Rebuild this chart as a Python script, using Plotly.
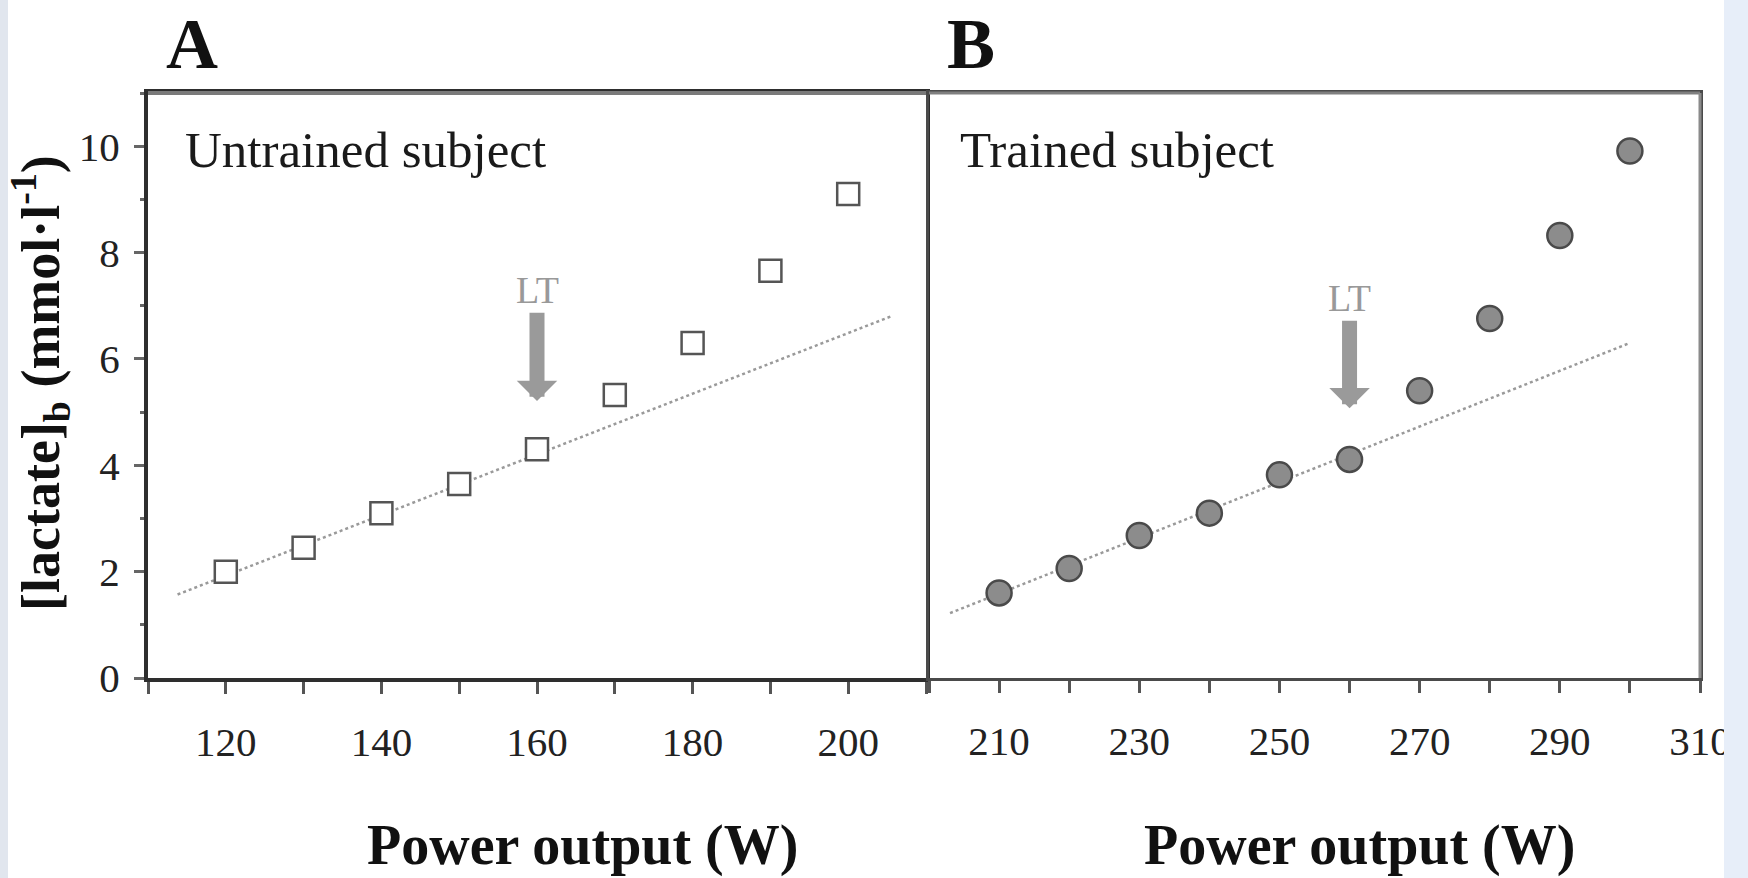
import plotly.graph_objects as go

# ---- data ----
power_a = [120, 130, 140, 150, 160, 170, 180, 190, 200]
lactate_a = [2.0, 2.45, 3.1, 3.65, 4.3, 5.32, 6.3, 7.66, 9.1]
fit_a_x = [113.8, 205.5]
fit_a_y = [1.57, 6.8]
lt_a = 160
lt_a_tip = 5.21
lt_a_text_y = 7.29

power_b = [210, 220, 230, 240, 250, 260, 270, 280, 290, 300]
lactate_b = [1.6, 2.06, 2.68, 3.1, 3.82, 4.11, 5.4, 6.76, 8.32, 9.91]
fit_b_x = [203.0, 300.0]
fit_b_y = [1.22, 6.3]
lt_b = 260
lt_b_tip = 5.07
lt_b_text_y = 7.14

xticks_a = [120, 140, 160, 180, 200]
xticks_b = [210, 230, 250, 270, 290, 310]
yticks = [0, 2, 4, 6, 8, 10]

FONT = "Liberation Serif"
W, H = 1748, 878

def px_x(p):
    return p / W

def px_y(p):
    return (H - p) / H

fig = go.Figure()

# Panel A
fig.add_trace(go.Scatter(x=fit_a_x, y=fit_a_y, mode="lines",
                         line=dict(color="#9a9a9a", width=2.5, dash="dot"),
                         xaxis="x", yaxis="y", showlegend=False))
fig.add_trace(go.Scatter(x=power_a, y=lactate_a, mode="markers",
                         marker=dict(symbol="square", size=22, color="white",
                                     line=dict(color="#555555", width=2.5)),
                         xaxis="x", yaxis="y", showlegend=False))
# Panel B
fig.add_trace(go.Scatter(x=fit_b_x, y=fit_b_y, mode="lines",
                         line=dict(color="#9a9a9a", width=2.5, dash="dot"),
                         xaxis="x2", yaxis="y2", showlegend=False))
fig.add_trace(go.Scatter(x=power_b, y=lactate_b, mode="markers",
                         marker=dict(symbol="circle", size=25, color="#8c8c8c",
                                     line=dict(color="#4a4a4a", width=2.5)),
                         xaxis="x2", yaxis="y2", showlegend=False))

tickfont = dict(family=FONT, size=41, color="#222222")
dom_y = [px_y(678), px_y(93)]

common_x = dict(showline=True, mirror=True, ticks="outside", ticklen=12, tickwidth=3,
                tickcolor="#555555", showgrid=False, zeroline=False, tickfont=tickfont,
                ticklabelstandoff=13, tickmode="array", automargin=False)

fig.update_layout(
    width=W, height=H, autosize=False,
    margin=dict(l=0, r=0, t=0, b=0, autoexpand=False),
    paper_bgcolor="white", plot_bgcolor="white",
    xaxis=dict(domain=[px_x(148), px_x(926)], range=[110, 210], tickvals=xticks_a,
               linecolor="#2e2e2e", linewidth=4,
               minor=dict(dtick=10, tick0=110, ticks="outside", ticklen=12, tickwidth=3,
                          tickcolor="#555555"),
               anchor="y", **common_x),
    xaxis2=dict(domain=[px_x(929), px_x(1700)], range=[200, 310], tickvals=xticks_b,
                linecolor="#4a4a4a", linewidth=3,
                minor=dict(dtick=10, tick0=200, ticks="outside", ticklen=12, tickwidth=3,
                           tickcolor="#555555"),
                anchor="y2", **common_x),
    yaxis=dict(domain=dom_y, range=[0, 11], tickmode="array", tickvals=yticks,
               showline=True, mirror=True, linecolor="#2e2e2e", linewidth=4,
               ticks="outside", ticklen=10, tickwidth=3, tickcolor="#666666",
               minor=dict(dtick=1, ticks="outside", ticklen=4, tickwidth=3, tickcolor="#666666"),
               showgrid=False, zeroline=False, tickfont=tickfont, ticklabelstandoff=6,
               anchor="x", automargin=False),
    yaxis2=dict(domain=dom_y, range=[0, 11], showline=True, mirror=True,
                linecolor="#4a4a4a", linewidth=3, ticks="", showticklabels=False,
                showgrid=False, zeroline=False, anchor="x2", automargin=False),
)

ann = []
# LT labels with arrows pointing down to the threshold point
for xr, yr, xv, tip, ty in [("x", "y", lt_a, lt_a_tip, lt_a_text_y),
                            ("x2", "y2", lt_b, lt_b_tip, lt_b_text_y)]:
    ann.append(dict(x=xv, y=tip, ax=xv, ay=ty, xref=xr, yref=yr,
                    axref=xr, ayref=yr, text="LT", showarrow=True, arrowhead=1,
                    arrowwidth=15, arrowsize=0.45, arrowcolor="#9a9a9a",
                    font=dict(family=FONT, size=38, color="#999999")))

# subject labels
ann.append(dict(x=px_x(183), y=px_y(150), xref="paper", yref="paper", xanchor="left",
                yanchor="middle", text="Untrained subject", showarrow=False,
                font=dict(family=FONT, size=51, color="#1a1a1a")))
ann.append(dict(x=px_x(958), y=px_y(150), xref="paper", yref="paper", xanchor="left",
                yanchor="middle", text="Trained subject", showarrow=False,
                font=dict(family=FONT, size=51, color="#1a1a1a")))
# panel letters
ann.append(dict(x=px_x(164), y=px_y(44), xref="paper", yref="paper", xanchor="left",
                yanchor="middle", text="<b>A</b>", showarrow=False,
                font=dict(family=FONT, size=72, color="#111111")))
ann.append(dict(x=px_x(945), y=px_y(44), xref="paper", yref="paper", xanchor="left",
                yanchor="middle", text="<b>B</b>", showarrow=False,
                font=dict(family=FONT, size=72, color="#111111")))
# axis titles (kept fully inside the page)
for cx in [582, 1359]:
    ann.append(dict(x=px_x(cx), y=0, xref="paper", yref="paper",
                    xanchor="center", yanchor="bottom", text="<b>Power output (W)</b>",
                    showarrow=False, borderpad=0,
                    font=dict(family=FONT, size=56, color="#111111")))
ann.append(dict(x=px_x(40), y=px_y(383), xref="paper", yref="paper", xanchor="center",
                yanchor="middle", textangle=-90,
                text="<b>[lactate]<sub>b</sub> (mmol·l<sup>-1</sup>)</b>",
                showarrow=False, font=dict(family=FONT, size=54, color="#111111")))

fig.update_layout(annotations=ann)

# lighter top/right frame edges and page edge strips of the original scan
fig.update_layout(shapes=[
    dict(type="line", xref="x domain", yref="y domain", x0=0, x1=1, y0=1, y1=1,
         line=dict(color="#7a7a7a", width=4), layer="above"),
    dict(type="line", xref="x2 domain", yref="y2 domain", x0=0, x1=1, y0=1, y1=1,
         line=dict(color="#808080", width=3), layer="above"),
    dict(type="line", xref="x2 domain", yref="y2 domain", x0=1, x1=1, y0=0, y1=1,
         line=dict(color="#8a8a8a", width=3), layer="above"),
    dict(type="rect", xref="paper", yref="paper", x0=0, x1=px_x(8), y0=0, y1=1,
         fillcolor="#e1e6ee", line=dict(width=0), layer="above"),
    dict(type="rect", xref="paper", yref="paper", x0=px_x(1724), x1=1, y0=0, y1=1,
         fillcolor="#e7eef9", line=dict(width=0), layer="above"),
])

fig.write_html("out.html")
